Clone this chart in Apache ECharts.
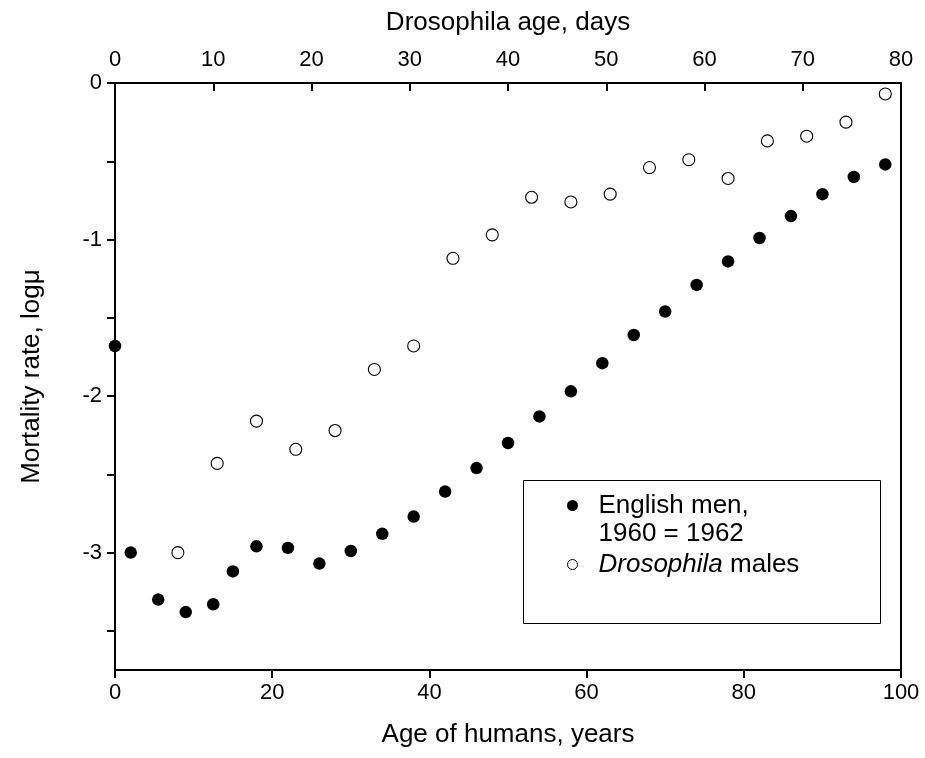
<!DOCTYPE html>
<html>
<head>
<meta charset="utf-8">
<script src="https://cdn.jsdelivr.net/npm/echarts@6/dist/echarts.min.js"></script>
<style>html,body{margin:0;padding:0;background:#fff}#chart{width:925px;height:758px}</style>
</head>
<body>
<div id="chart"></div>
<script>
// English men, 1960-1962: age in years (bottom axis) and log mortality
const humanAge = [0, 2, 5.5, 9, 12.5, 15, 18, 22, 26, 30, 34, 38, 42, 46, 50, 54, 58, 62, 66, 70, 74, 78, 82, 86, 90, 94, 98];
const englishMen = [-1.68, -3.00, -3.30, -3.38, -3.33, -3.12, -2.96, -2.97, -3.07, -2.99, -2.88, -2.77, -2.61, -2.46, -2.30, -2.13, -1.97, -1.79, -1.61, -1.46, -1.29, -1.14, -0.99, -0.85, -0.71, -0.60, -0.52];
// Drosophila males: age in days (top axis) and log mortality
const flyAge = [6.4, 10.4, 14.4, 18.4, 22.4, 26.4, 30.4, 34.4, 38.4, 42.4, 46.4, 50.4, 54.4, 58.4, 62.4, 66.4, 70.4, 74.4, 78.4];
const flyMortality = [-3.00, -2.43, -2.16, -2.34, -2.22, -1.83, -1.68, -1.12, -0.97, -0.73, -0.76, -0.71, -0.54, -0.49, -0.61, -0.37, -0.34, -0.25, -0.07];
// Axis ticks
const yTickValues = [-3.5, -3, -2.5, -2, -1.5, -1, -0.5, 0];
const yLabelValues = [-3, -2, -1, 0];
const humanTickStep = 20;
const flyTickStep = 10;

const FONT = '"Liberation Sans", Arial, sans-serif';
const chart = echarts.init(document.getElementById('chart'), null, {renderer: 'canvas'});
const axisLine = {show: true, onZero: false, lineStyle: {color: '#000', width: 2}};
const tickStyle = {color: '#000', width: 2};
const labelStyle = {color: '#000', fontSize: 22, fontFamily: FONT};
const nameStyle = {color: '#000', fontSize: 26, fontFamily: FONT};

chart.setOption({
  backgroundColor: '#fff',
  animation: false,
  grid: {left: 115, right: 24, top: 83, bottom: 88, containLabel: false},
  xAxis: [
    {
      type: 'value', position: 'bottom', min: 0, max: 100, interval: humanTickStep,
      name: 'Age of humans, years', nameLocation: 'middle', nameGap: 52,
      nameTextStyle: nameStyle,
      axisLine: axisLine,
      axisTick: {show: true, inside: false, length: 8, lineStyle: tickStyle},
      axisLabel: Object.assign({margin: 12}, labelStyle),
      splitLine: {show: false}
    },
    {
      type: 'value', position: 'top', min: 0, max: 80, interval: flyTickStep,
      name: 'Drosophila age, days', nameLocation: 'middle', nameGap: 47,
      nameTextStyle: nameStyle,
      axisLine: axisLine,
      axisTick: {show: true, inside: true, length: 8, lineStyle: tickStyle},
      axisLabel: Object.assign({margin: 12}, labelStyle),
      splitLine: {show: false}
    }
  ],
  yAxis: [
    {
      type: 'value', position: 'left', min: -3.75, max: 0,
      name: 'Mortality rate, logμ', nameLocation: 'middle', nameGap: 70,
      nameTextStyle: nameStyle,
      axisLine: axisLine,
      axisTick: {show: true, inside: false, length: 8, lineStyle: tickStyle, customValues: yTickValues},
      axisLabel: Object.assign({margin: 13, customValues: yLabelValues}, labelStyle),
      splitLine: {show: false}
    },
    {
      type: 'value', position: 'right', min: -3.75, max: 0,
      axisLine: axisLine,
      axisTick: {show: false}, axisLabel: {show: false}, splitLine: {show: false}
    }
  ],
  series: [
    {
      name: 'English men, 1960 = 1962', type: 'scatter', xAxisIndex: 0, yAxisIndex: 0,
      symbol: 'circle', symbolSize: 12.5, clip: false,
      itemStyle: {color: '#000', opacity: 1},
      data: humanAge.map((a, i) => [a, englishMen[i]])
    },
    {
      name: 'Drosophila males', type: 'scatter', xAxisIndex: 1, yAxisIndex: 0,
      symbol: 'circle', symbolSize: 12, clip: false,
      itemStyle: {color: '#fff', borderColor: '#000', borderWidth: 1.1, opacity: 1},
      data: flyAge.map((a, i) => [a, flyMortality[i]])
    }
  ],
  graphic: [
    {
      type: 'group', left: 521, top: 478,
      children: [
        {type: 'rect', shape: {x: 0, y: 0, width: 357, height: 143}, style: {fill: 'none', stroke: '#000', lineWidth: 1}},
        {type: 'circle', shape: {cx: 49, cy: 25, r: 5.5}, style: {fill: '#000'}},
        {type: 'text', x: 75, y: 25, style: {text: 'English men,', fill: '#000', font: '26px ' + FONT, verticalAlign: 'middle'}},
        {type: 'text', x: 75, y: 53, style: {text: '1960 = 1962', fill: '#000', font: '26px ' + FONT, verticalAlign: 'middle'}},
        {type: 'circle', shape: {cx: 49, cy: 84, r: 5}, style: {fill: '#fff', stroke: '#000', lineWidth: 1}},
        {type: 'text', x: 75, y: 84, style: {
          text: '{i|Drosophila} males', fill: '#000', font: '26px ' + FONT, verticalAlign: 'middle',
          rich: {i: {fontStyle: 'italic', fontSize: 26, fontFamily: FONT, fill: '#000'}}
        }}
      ]
    }
  ]
});
</script>
</body>
</html>
